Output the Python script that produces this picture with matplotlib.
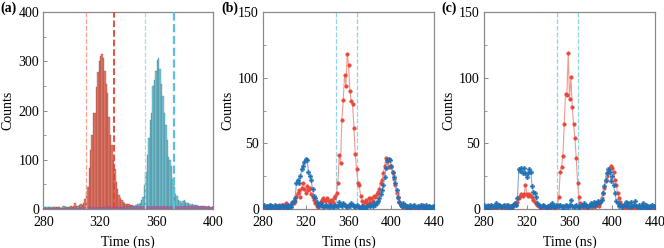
import numpy as np
import matplotlib
matplotlib.use("Agg")
import matplotlib.pyplot as plt
from matplotlib.ticker import AutoMinorLocator

plt.rcParams['font.family'] = ['Liberation Serif', 'DejaVu Serif']
plt.rcParams['font.size'] = 10
plt.rcParams['mathtext.fontset'] = 'stix'

# ---------------- Panel (a): histograms, 1 ns bins from 280 to 399 ----------------
hist_start = 280
hist_bins = np.arange(hist_start, 400)

red_hist = [2, 3, 2, 4, 3, 2, 3, 4, 2, 3,
            3, 4, 2, 3, 5, 3, 4, 3, 4, 5,
            4, 6, 12, 5, 6, 8, 9,
            8, 11, 20, 35, 45, 82, 120, 150, 194, 196,
            249, 279, 300, 311, 315, 308, 281, 255, 235, 187,
            150, 130, 100, 80, 55, 41, 28, 22, 18, 14,
            12, 10, 10, 10, 8, 8, 6, 5, 4, 3,
            4, 3, 2, 4, 3, 2, 3, 2, 3, 2, 3, 2, 4, 3, 2, 3, 2, 3, 2, 3,
            2, 3, 2, 2, 3, 2, 3, 2, 2, 3, 2, 2, 3, 2, 2, 3, 2, 2, 1, 2,
            2, 1, 2, 2, 1, 2, 2, 1, 2, 1, 2, 1, 2]

blue_hist = [3, 2, 4, 3, 2, 3, 4, 2, 3, 2,
             2, 3, 2, 3, 4, 2, 3, 2, 3, 2,
             2, 3, 2, 2, 3, 2, 2, 3, 2, 2,
             2, 2, 3, 2, 2, 2, 3, 2, 2, 2,
             2, 2, 2, 3, 2, 2, 2, 2, 3, 2,
             2, 2, 3, 2, 2, 3, 2, 3, 3, 4,
             3, 4, 5, 4, 6, 8, 9, 10,
             11, 18, 24, 48, 75, 110, 145, 180, 195, 250,
             262, 280, 303, 308, 285, 255, 230, 195, 170, 140,
             106, 99, 86, 60, 45, 30, 25, 18, 15, 12,
             16, 18, 14, 12, 11, 10, 8, 9, 8, 7,
             7, 6, 6, 5, 6, 5, 5, 4, 5, 4, 3, 3]

purple_hist = [1, 2, 1, 1, 2, 1, 2, 1, 1, 2,
               1, 2, 1, 2, 1, 1, 2, 1, 2, 2,
               2, 3, 2, 3, 2, 3, 3, 2, 3, 3,
               3, 4, 3, 3, 4, 3, 4, 4, 3, 4,
               4, 3, 4, 5, 4, 4, 5, 4, 4, 5,
               4, 5, 4, 4, 5, 4, 5, 4, 5, 4,
               5, 4, 5, 5, 4, 5, 6, 5, 5, 4,
               5, 4, 5, 6, 5, 4, 5, 5, 6, 5,
               5, 6, 5, 4, 5, 6, 5, 5, 4, 5,
               6, 5, 5, 6, 5, 4, 6, 5, 6, 5,
               7, 6, 8, 6, 5, 7, 6, 8, 6, 5,
               6, 5, 5, 6, 4, 5, 6, 5, 4, 5]

a_gate_red = [310, 330]
a_gate_blue = [352, 372]

# ---------------- Panels (b), (c): time traces, 1.25 ns steps 280..440 ----------------
t_trace = np.linspace(280, 440, 129)

b_red = [2, 1, 0, 2, 1, 3, 1, 0,
         1, 2, 0, 1, 3, 2, 1, 0,
         3, 4, 2, 1, 2, 3, 5, 4,
         6, 10, 12, 14, 9, 16, 20, 15,
         12, 17, 14, 16, 11, 9, 7, 4,
         2, 1, 3, 5, 7, 8, 6, 7,
         8, 6, 4, 7, 5, 8, 10, 12,
         20, 41, 35, 68, 83, 102, 94, 118,
         110, 90, 82, 80, 62, 42, 30, 20,
         18, 10, 6, 3, 5, 7, 4, 8,
         5, 8, 6, 10, 9, 11, 13, 15,
         20, 22, 27, 33, 39, 36, 32, 33,
         32, 27, 23, 18, 12, 8, 5, 3,
         2, 1, 0, 2, 1, 0, 2, 1,
         0, 2, 1, 0, 1, 2, 0, 1,
         3, 1, 0, 1, 2, 0, 1, 0,
         1]

b_blue = [2, 3, 1, 2, 0, 3, 1, 2,
          1, 3, 2, 0, 2, 1, 3, 2,
          1, 2, 0, 3, 2, 1, 4, 6,
          8, 20, 22, 20, 25, 30, 33, 36,
          38, 37, 28, 25, 22, 15, 10, 8,
          5, 3, 2, 4, 3, 1, 2, 3,
          2, 1, 3, 2, 1, 2, 3, 2,
          2, 5, 3, 2, 4, 3, 2, 1,
          3, 2, 4, 3, 2, 1, 3, 2,
          1, 0, 2, 1, 0, 1, 2, 3,
          2, 3, 2, 4, 3, 4, 6, 8,
          11, 14, 18, 24, 31, 37, 38, 37,
          33, 28, 24, 20, 14, 9, 5, 3,
          2, 4, 3, 1, 2, 0, 3, 1,
          2, 3, 1, 0, 2, 1, 3, 1,
          2, 0, 3, 1, 2, 0, 1, 2,
          1]

c_red = [2, 0, 1, 3, 1, 0, 2, 1,
         0, 2, 1, 3, 2, 1, 0, 2,
         1, 2, 3, 1, 2, 0, 3, 4,
         3, 5, 8, 10, 11, 10, 11, 18,
         11, 10, 11, 10, 9, 7, 5, 4,
         3, 2, 1, 0, 2, 1, 0, 1,
         2, 1, 3, 2, 1, 0, 2, 3,
         9, 28, 32, 40, 65, 88, 87, 119,
         84, 101, 78, 65, 54, 39, 20, 9,
         4, 2, 3, 1, 0, 2, 1, 3,
         2, 1, 3, 2, 4, 3, 2, 5,
         8, 12, 16, 21, 25, 28, 31, 33,
         31, 28, 22, 18, 12, 8, 5, 3,
         1, 2, 0, 1, 3, 1, 0, 2,
         1, 0, 2, 1, 0, 2, 1, 0,
         2, 1, 0, 1, 2, 0, 1, 2,
         0]

c_blue = [3, 1, 2, 0, 2, 3, 1, 2,
          2, 4, 1, 3, 2, 1, 2, 3,
          1, 3, 2, 0, 2, 1, 3, 4,
          3, 8, 30, 29, 31, 27, 31, 27,
          24, 27, 30, 28, 17, 13, 12, 9,
          4, 3, 2, 1, 3, 2, 1, 0,
          2, 3, 1, 4, 2, 1, 3, 2,
          2, 3, 1, 2, 0, 3, 2, 1,
          3, 7, 2, 1, 2, 3, 1, 2,
          1, 3, 2, 4, 3, 2, 1, 3,
          4, 3, 5, 2, 4, 6, 4, 5,
          7, 12, 17, 22, 27, 30, 28, 21,
          25, 18, 12, 6, 4, 2, 3, 1,
          2, 3, 5, 2, 4, 1, 5, 2,
          3, 6, 2, 1, 3, 0, 2, 4,
          1, 3, 2, 0, 2, 1, 3, 2,
          1]

bc_gate = [348, 368]

panel_labels = ['(a)', '(b)', '(c)']

# ---------------- Figure ----------------
fig = plt.figure(figsize=(6.64, 2.48), dpi=100)
ax_pos = [[0.0652, 0.1585, 0.256, 0.7915],
          [0.3962, 0.1585, 0.2575, 0.7915],
          [0.7290, 0.1585, 0.2575, 0.7915]]
axes = [fig.add_axes(p) for p in ax_pos]

spine_col = '#8a8a8a'


def style(ax):
    for s in ax.spines.values():
        s.set_color(spine_col)
        s.set_linewidth(0.9)
    ax.tick_params(direction='in', length=3, width=0.7, color=spine_col,
                   labelsize=10)
    ax.tick_params(axis='x', pad=5)
    ax.tick_params(axis='y', pad=3)
    ax.tick_params(which='minor', direction='in', length=1.8, width=0.6, color=spine_col)
    ax.xaxis.set_minor_locator(AutoMinorLocator(2))
    ax.yaxis.set_minor_locator(AutoMinorLocator(2))
    ax.set_xlabel('Time (ns)', fontsize=10, labelpad=5)
    ax.set_ylabel('Counts', fontsize=10, labelpad=3)


# (a)
ax = axes[0]
ax.bar(hist_bins, red_hist, width=1, align='edge', color='#f07c6c',
       edgecolor=(0.45, 0.18, 0.15, 0.55), linewidth=0.35, zorder=2)
ax.bar(hist_bins, blue_hist, width=1, align='edge', color='#78c9da',
       edgecolor=(0.18, 0.36, 0.40, 0.55), linewidth=0.35, zorder=2)
ax.bar(hist_bins, purple_hist, width=1, align='edge', color='#b0508f',
       edgecolor='none', linewidth=0, alpha=0.7, zorder=3)
ax.axvline(a_gate_red[0], color='#f6a092', ls='--', lw=0.9, zorder=4)
ax.axvline(a_gate_red[1], color='#e8402f', ls='--', lw=1.3, zorder=4)
ax.axvline(a_gate_blue[0], color='#a9dce9', ls='--', lw=0.9, zorder=4)
ax.axvline(a_gate_blue[1], color='#5cc0d8', ls='--', lw=1.6, zorder=4)
ax.set_xlim(280, 400)
ax.set_ylim(0, 400)
ax.set_xticks([280, 320, 360, 400])
ax.set_yticks([0, 100, 200, 300, 400])
style(ax)

# (b), (c)
for ax, red, blue in [(axes[1], b_red, b_blue), (axes[2], c_red, c_blue)]:
    for g in bc_gate:
        ax.axvline(g, color='#8fd4ea', ls='--', lw=0.9, zorder=1)
    ax.plot(t_trace, red, '-', color='#f39a90', lw=0.8, zorder=2)
    ax.plot(t_trace, red, 'o', color='#e8473b', ms=2.6, mec='#e8473b', mew=0.3, zorder=3)
    ax.plot(t_trace, blue, '-', color='#8aa4cc', lw=0.8, zorder=4)
    ax.plot(t_trace, blue, 'P', color='#1f70b5', ms=3.3, mec='#1f70b5', mew=0.2, zorder=5)
    ax.set_xlim(280, 440)
    ax.set_ylim(0, 150)
    ax.set_xticks([280, 320, 360, 400, 440])
    ax.set_yticks([0, 50, 100, 150])
    style(ax)

for lab, xf in zip(panel_labels, [0.001, 0.333, 0.665]):
    fig.text(xf, 0.968, lab, fontsize=10, fontweight='bold', va='center', ha='left')

fig.savefig('out.png', dpi=100)
